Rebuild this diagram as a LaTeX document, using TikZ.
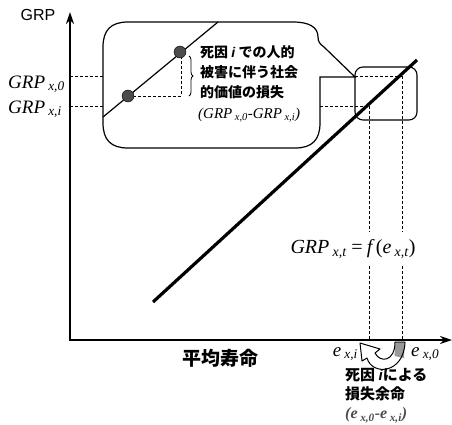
\documentclass[tikz,border=0pt]{standalone}
\usepackage{fontspec}
\setmainfont{Liberation Serif}
\setsansfont{Liberation Sans}
\newfontfamily\jfont{Noto Sans CJK JP}
\usetikzlibrary{arrows.meta,decorations.pathreplacing}
\newcommand\lsub[1]{\,\textsubscript{#1}}
\newcommand\iit{{\sffamily\itshape\bfseries i}}
\tikzstyle{ax}=[line width=1.6pt,-{Stealth[length=12pt,width=8pt]}]
\tikzstyle{dsh}=[line width=0.6pt,dash pattern=on 3pt off 2pt]
\tikzstyle{jp}=[font=\jfont\bfseries\fontsize{14}{20}\selectfont,inner sep=0pt,align=left]
\tikzstyle{lbl}=[font=\itshape\fontsize{19}{19}\selectfont,inner sep=0pt]
\tikzstyle{dot}=[fill=black!70,draw=black,thin]

\begin{document}
\begin{tikzpicture}[x=1pt,y=-1pt]
\useasboundingbox (0,0) rectangle (452,424);
\draw[ax] (70,340) -- (70,12);
\draw[ax] (69,340) -- (452,340);
\node[font=\sffamily\fontsize{16}{16}\selectfont,inner sep=0pt] (grp) at (38,15) {GRP};
\node[lbl,anchor=base west] (grp0) at (8,88) {GRP\lsub{x,0}};
\node[lbl,anchor=base west] (grpi) at (8,113) {GRP\lsub{x,i}};
\draw[dsh] (70,76) -- (103,76);
\draw[dsh] (70,106) -- (103,106);
\draw[line width=1.2pt] (128,22) -- (293,22) .. controls (309,22) and (318,27) .. (318,37)
  .. controls (318,42) and (320,44) .. (324,47) -- (355,77) -- (320,77) -- (320,123)
  .. controls (320,140) and (312,148) .. (295,148) -- (128,148)
  .. controls (111,148) and (103,140) .. (103,123) -- (103,47)
  .. controls (103,30) and (111,22) .. (128,22) -- cycle;
\draw[line width=1.2pt] (103,117) -- (218,22);
\draw[dsh,line width=0.9pt] (128,96) -- (181,96) -- (181,52);
\filldraw[dot] (128,96) circle[radius=6pt];
\filldraw[dot] (180,52) circle[radius=6pt];
\draw[thick,decorate,decoration={brace,amplitude=4pt}] (189,56) -- (189,96);
\node[jp,anchor=west] (loss) at (200,72) {死因 \iit\ での人的\\被害に伴う社会\\的価値の損失};
\node[font=\itshape\fontsize{15}{15}\selectfont,inner sep=0pt,anchor=west] (lossf) at (198,115) {(GRP\lsub{x,0}-GRP\lsub{x,i})};
\draw[line width=1.1pt,rounded corners=8pt] (355,67) rectangle (417,120);
\draw[dsh] (320,106) -- (369,106);
\draw[dsh] (355,76) -- (402,76);
\draw[dsh] (369,106) -- (369,340);
\draw[dsh] (402,76) -- (402,340);
\draw[line width=3.2pt] (153,302) -- (417,60);
\node[lbl,fill=white,inner ysep=7pt,inner xsep=2pt,font=\itshape\fontsize{20}{20}\selectfont] (func) at (353,249) {GRP\lsub{x,t}\,=\,\textit{f}\,\textup{(}e\lsub{x,t}\textup{)}};
\node[font=\jfont\bfseries\fontsize{19}{19}\selectfont,inner sep=0pt] (life) at (220,358) {平均寿命};
\node[lbl,anchor=east] (ei) at (358,354) {e\lsub{x,i}};
\node[lbl,anchor=west] (e0) at (411,354) {e\lsub{x,0}};
\fill[white] (395,342) -- (405,342) .. controls (404,374) and (372,376) .. (367,358) -- (362,361) -- (360,343) -- (380,349) -- (375,353) .. controls (380,363) and (395,362) .. (395,342) -- cycle;
\fill[black!40] (395.5,342.5) -- (404.5,342.5) -- (404,358) -- (394.5,356) -- cycle;
\draw[line width=1pt,line join=round] (395,342) -- (405,342) .. controls (404,374) and (372,376) .. (367,358) -- (362,361) -- (360,343) -- (380,349) -- (375,353) .. controls (380,363) and (395,362) .. (395,342) -- cycle;
\node[jp,anchor=north west,font=\jfont\bfseries\fontsize{15}{19}\selectfont] (rem) at (345,368) {死因 \iit による\\損失余命\\\textcolor{black!70}{\rmfamily\itshape\fontsize{16}{19}\selectfont (e\lsub{x,0}-e\lsub{x,i})}};
\end{tikzpicture}
\end{document}
